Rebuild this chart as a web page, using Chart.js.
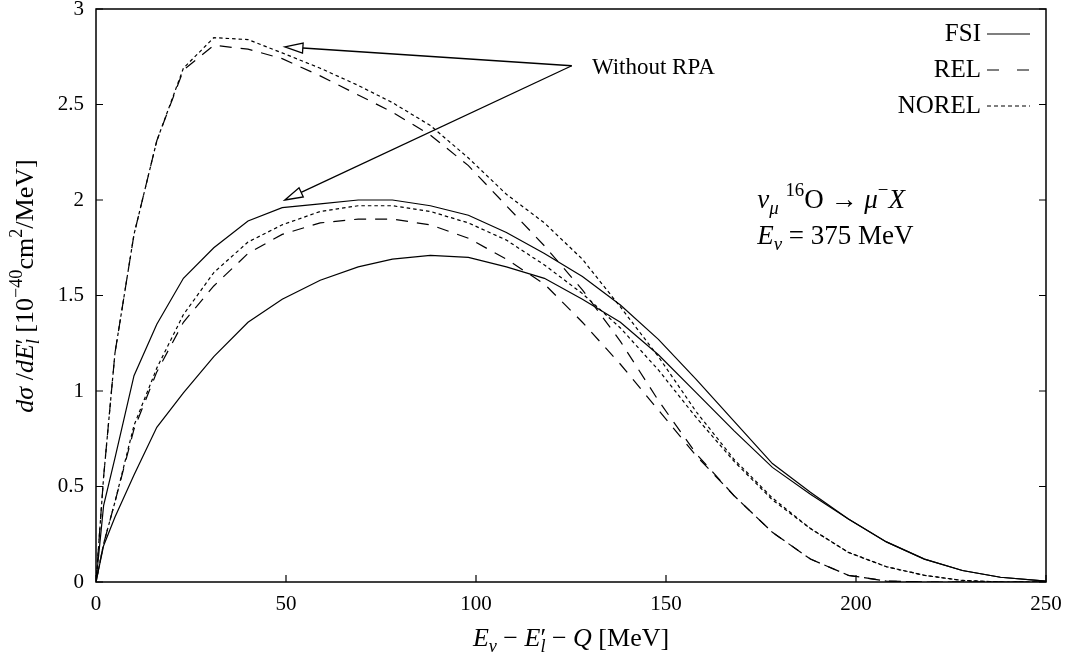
<!DOCTYPE html>
<html>
<head>
<meta charset="utf-8">
<script src="https://cdn.jsdelivr.net/npm/chart.js@4.4.1/dist/chart.umd.min.js"></script>
<style>
  html, body { margin: 0; padding: 0; background: #fff; }
</style>
</head>
<body>
<canvas id="chart" width="1069" height="659"></canvas>
<script>
// energy transfer E_nu - E'_l - Q [MeV]
const energy = [0, 2, 5, 10, 16, 23, 31, 40, 49, 59, 69, 78, 88, 98, 108, 118, 128, 138, 148, 158, 168, 178, 188, 198, 208, 218, 228, 238, 250];

// with RPA
const fsiRpa   = [0, 0.19, 0.34, 0.56, 0.81, 0.99, 1.18, 1.36, 1.48, 1.58, 1.65, 1.69, 1.71, 1.70, 1.65, 1.59, 1.48, 1.36, 1.19, 0.99, 0.79, 0.60, 0.46, 0.33, 0.21, 0.12, 0.06, 0.025, 0.005];
const relRpa   = [0, 0.20, 0.42, 0.80, 1.10, 1.36, 1.55, 1.72, 1.82, 1.88, 1.90, 1.90, 1.87, 1.80, 1.69, 1.56, 1.36, 1.14, 0.90, 0.66, 0.45, 0.26, 0.12, 0.035, 0.005, 0, 0, 0, 0];
const norelRpa = [0, 0.20, 0.42, 0.82, 1.12, 1.40, 1.62, 1.78, 1.87, 1.94, 1.97, 1.97, 1.94, 1.88, 1.79, 1.66, 1.51, 1.33, 1.11, 0.86, 0.63, 0.43, 0.28, 0.155, 0.08, 0.035, 0.008, 0, 0];

// without RPA
const fsiBare   = [0, 0.40, 0.65, 1.08, 1.35, 1.59, 1.75, 1.89, 1.96, 1.98, 2.00, 2.00, 1.97, 1.92, 1.83, 1.72, 1.60, 1.45, 1.27, 1.06, 0.84, 0.62, 0.47, 0.33, 0.21, 0.12, 0.06, 0.025, 0.005];
const relBare   = [0, 0.55, 1.20, 1.82, 2.31, 2.68, 2.81, 2.79, 2.74, 2.65, 2.55, 2.46, 2.34, 2.18, 1.97, 1.76, 1.53, 1.26, 0.95, 0.67, 0.45, 0.26, 0.12, 0.035, 0.005, 0, 0, 0, 0];
const norelBare = [0, 0.55, 1.20, 1.82, 2.31, 2.69, 2.85, 2.84, 2.77, 2.69, 2.60, 2.51, 2.39, 2.22, 2.03, 1.88, 1.69, 1.44, 1.18, 0.89, 0.64, 0.44, 0.28, 0.155, 0.08, 0.035, 0.008, 0, 0];

const xTicks = [0, 50, 100, 150, 200, 250];
const yTicks = [0, 0.5, 1, 1.5, 2, 2.5, 3];
const models = ['FSI', 'REL', 'NOREL'];

const SERIF = '"Liberation Serif", "Times New Roman", serif';
const dashes = { FSI: [], REL: [12, 9], NOREL: [3.5, 3] };
const legendDashes = { FSI: [], REL: [12, 18], NOREL: [4, 3] };

const series = [
  { model: 'FSI', values: fsiRpa },
  { model: 'REL', values: relRpa },
  { model: 'NOREL', values: norelRpa },
  { model: 'FSI', values: fsiBare },
  { model: 'REL', values: relBare },
  { model: 'NOREL', values: norelBare }
];

function fontStr(size, italic) {
  return (italic ? 'italic ' : '') + size + 'px ' + SERIF;
}

// parts: [text, flags]  i = italic, b = subscript, p = superscript, k = do not advance
function drawRich(ctx, parts, x, y, size, align) {
  const info = parts.map(p => {
    const f = p[1] || '';
    const small = f.includes('b') || f.includes('p');
    const sz = small ? size * 0.7 : size;
    ctx.font = fontStr(sz, f.includes('i'));
    return { t: p[0], f: f, sz: sz, w: ctx.measureText(p[0]).width };
  });
  let total = 0;
  info.forEach(p => { if (!p.f.includes('k')) total += p.w; });
  let cx = align === 'center' ? x - total / 2 : x;
  ctx.textAlign = 'left';
  ctx.textBaseline = 'alphabetic';
  info.forEach(p => {
    let dy = 0;
    if (p.f.includes('b')) dy = size * 0.22;
    if (p.f.includes('p')) dy = -size * 0.42;
    ctx.font = fontStr(p.sz, p.f.includes('i'));
    ctx.fillText(p.t, cx, y + dy);
    if (!p.f.includes('k')) cx += p.w;
  });
}

function arrow(ctx, x1, y1, x2, y2) {
  const ang = Math.atan2(y2 - y1, x2 - x1);
  const len = 18, half = 5;
  const bx = x2 - len * Math.cos(ang), by = y2 - len * Math.sin(ang);
  ctx.beginPath();
  ctx.moveTo(x1, y1);
  ctx.lineTo(bx, by);
  ctx.stroke();
  ctx.beginPath();
  ctx.moveTo(x2, y2);
  ctx.lineTo(bx + half * Math.sin(ang), by - half * Math.cos(ang));
  ctx.lineTo(bx - half * Math.sin(ang), by + half * Math.cos(ang));
  ctx.closePath();
  ctx.fillStyle = '#fff';
  ctx.fill();
  ctx.stroke();
}

// frame, inward ticks, legend, labels and arrows
const decor = {
  id: 'decor',
  afterDraw(chart) {
    const ctx = chart.ctx;
    const a = chart.chartArea;
    const xs = chart.scales.x, ys = chart.scales.y;
    ctx.save();
    ctx.strokeStyle = '#000';
    ctx.fillStyle = '#000';
    ctx.lineWidth = 1.5;
    ctx.setLineDash([]);
    ctx.strokeRect(a.left, a.top, a.right - a.left, a.bottom - a.top);

    ctx.lineWidth = 1.2;
    ctx.beginPath();
    yTicks.forEach(v => {
      const py = ys.getPixelForValue(v);
      ctx.moveTo(a.left, py); ctx.lineTo(a.left + 7, py);
      ctx.moveTo(a.right, py); ctx.lineTo(a.right - 7, py);
    });
    xTicks.forEach(v => {
      const px = xs.getPixelForValue(v);
      ctx.moveTo(px, a.bottom); ctx.lineTo(px, a.bottom - 7);
    });
    ctx.stroke();

    // legend, top right
    models.forEach((m, i) => {
      const py = a.top + 25 + i * 36;
      ctx.font = fontStr(25, false);
      ctx.textAlign = 'right';
      ctx.textBaseline = 'middle';
      ctx.fillStyle = '#000';
      ctx.fillText(m, a.right - 65, py);
      ctx.setLineDash(legendDashes[m]);
      ctx.lineWidth = 1.2;
      ctx.beginPath();
      ctx.moveTo(a.right - 59, py);
      ctx.lineTo(a.right - 16, py);
      ctx.stroke();
    });
    ctx.setLineDash([]);

    // reaction label
    const lx = xs.getPixelForValue(174);
    drawRich(ctx, [['ν', 'i'], ['μ', 'ib'], [' '], ['16', 'p'], ['O'], [' → '], ['μ', 'i'], ['−', 'p'], ['X', 'i']],
      lx, ys.getPixelForValue(1.96), 27, 'left');
    drawRich(ctx, [['E', 'i'], ['ν', 'ib'], [' = 375 MeV']],
      lx, ys.getPixelForValue(1.77), 27, 'left');

    // "Without RPA" arrows
    ctx.lineWidth = 1.3;
    ctx.fillStyle = '#000';
    const tx = xs.getPixelForValue(125.2), ty = ys.getPixelForValue(2.703);
    arrow(ctx, tx, ty, xs.getPixelForValue(49.7), ys.getPixelForValue(2.802));
    arrow(ctx, tx, ty, xs.getPixelForValue(49.7), ys.getPixelForValue(2.0));
    ctx.fillStyle = '#000';
    ctx.font = fontStr(23, false);
    ctx.textAlign = 'left';
    ctx.textBaseline = 'middle';
    ctx.fillText('Without RPA', xs.getPixelForValue(130.5), ys.getPixelForValue(2.69));

    // axis titles
    drawRich(ctx, [['E', 'i'], ['ν', 'ib'], [' − '], ['E', 'i'], ['′', 'k'], ['l', 'ib'], [' − '], ['Q', 'i'], [' [MeV]']],
      (a.left + a.right) / 2, 646, 26, 'center');
    ctx.translate(33, 286);
    ctx.rotate(-Math.PI / 2);
    drawRich(ctx, [['dσ', 'i'], [' /'], ['dE', 'i'], ['′', 'k'], ['l', 'ib'], [' [10'], ['−40', 'p'], ['cm'], ['2', 'p'], ['/MeV]']],
      0, 0, 26, 'center');
    ctx.restore();
  }
};

const tickFont = { family: SERIF, size: 21 };

new Chart(document.getElementById('chart'), {
  type: 'line',
  data: {
    datasets: series.map(s => ({
      label: s.model,
      data: energy.map((e, i) => ({ x: e, y: s.values[i] })),
      borderColor: '#000',
      borderWidth: 1.2,
      borderDash: dashes[s.model],
      pointRadius: 0,
      tension: 0,
      fill: false
    }))
  },
  options: {
    responsive: false,
    animation: false,
    layout: { padding: { top: 9, right: 23, left: 0, bottom: 0 } },
    plugins: {
      legend: { display: false },
      tooltip: { enabled: false }
    },
    scales: {
      x: {
        type: 'linear',
        min: 0,
        max: 250,
        afterBuildTicks: s => { s.ticks = xTicks.map(v => ({ value: v })); },
        afterFit: s => { s.height = 77; s.paddingLeft = 0; s.paddingRight = 0; },
        grid: { display: false, drawTicks: false },
        border: { display: false },
        ticks: { color: '#000', font: tickFont, padding: 10, maxRotation: 0, callback: v => String(v) }
      },
      y: {
        type: 'linear',
        min: 0,
        max: 3,
        afterBuildTicks: s => { s.ticks = yTicks.map(v => ({ value: v })); },
        afterFit: s => { s.width = 96; s.paddingTop = 0; s.paddingBottom = 0; },
        grid: { display: false, drawTicks: false },
        border: { display: false },
        ticks: { color: '#000', font: tickFont, padding: 12, callback: v => String(v) }
      }
    }
  },
  plugins: [decor]
});
</script>
</body>
</html>
